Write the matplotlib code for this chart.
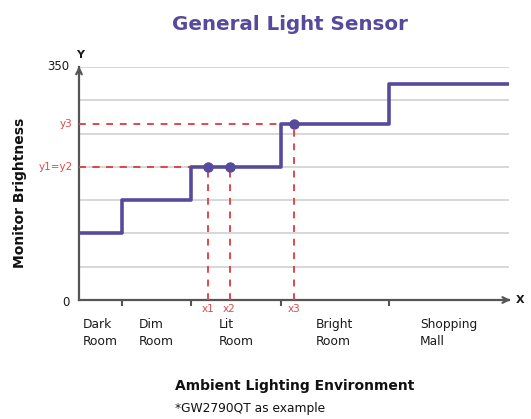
import matplotlib
matplotlib.use("Agg")
import matplotlib.pyplot as plt

# environments along the x axis (arbitrary scale 0..10)
edges = [0, 1.0, 2.6, 4.7, 7.2, 10.0]
levels = [100, 150, 200, 265, 325]
rooms = ["Dark\nRoom", "Dim\nRoom", "Lit\nRoom", "Bright\nRoom", "Shopping\nMall"]

# sample points on the curve
pt_x = [3.0, 3.5, 5.0]
pt_y = [200, 200, 265]
pt_names = ["x1", "x2", "x3"]
y_marks = [200, 265]
y_mark_names = ["y1=y2", "y3"]

PURPLE = "#574a9c"
RED = "#e0484c"
AXC = "#555555"
FONT = "DejaVu Sans"

fig = plt.figure(figsize=(5.31, 4.19), dpi=100)
W, H = 531, 419
x0, x1p, y0, y1p = 79, 509, 300, 67
ax = fig.add_axes([x0 / W, 1 - y0 / H, (x1p - x0) / W, (y0 - y1p) / H])
ax.set_xlim(0, 10)
ax.set_ylim(0, 350)

for g in range(50, 351, 50):
    ax.axhline(g, color="#d4d4d4", lw=1.3, zorder=1)

ax.step(edges, levels + [levels[-1]], where="post", color=PURPLE, lw=2.6, zorder=4)

for x, y in zip(pt_x, pt_y):
    ax.plot([0, x], [y, y], ls=(0, (3.5, 3.5)), color=RED, lw=1.4, zorder=3)
    ax.plot([x, x], [0, y], ls=(0, (3.5, 3.5)), color=RED, lw=1.4, zorder=3)
ax.plot(pt_x, pt_y, "o", color=PURPLE, ms=6.5, zorder=5)

for x, n in zip(pt_x, pt_names):
    ax.text(x, -13, n, color=RED, fontsize=7.5, ha="center", va="center", family=FONT, clip_on=False)
for y, n in zip(y_marks, y_mark_names):
    ax.text(-0.15, y, n, color=RED, fontsize=7.5, ha="right", va="center", family=FONT, clip_on=False)

for i, r in enumerate(rooms):
    mid = (edges[i] + edges[i + 1]) / 2
    ax.text(mid, -27, r, fontsize=8.8, ha="center", va="top", multialignment="left",
            linespacing=1.45, family=FONT, color="#1a1a1a", clip_on=False)

ax.set_xticks(edges[1:-1])
ax.set_xticklabels([])
ax.set_yticks([])
ax.tick_params(axis="x", direction="out", length=4, width=1.5, color=AXC)

for s in ["top", "right"]:
    ax.spines[s].set_visible(False)
for s in ["left", "bottom"]:
    ax.spines[s].set_color(AXC)
    ax.spines[s].set_linewidth(1.6)

ax.annotate("", xy=(1.01, 0), xytext=(0.99, 0), xycoords="axes fraction",
            arrowprops=dict(arrowstyle="->", color=AXC, lw=1.6))
ax.annotate("", xy=(0, 1.015), xytext=(0, 0.98), xycoords="axes fraction",
            arrowprops=dict(arrowstyle="->", color=AXC, lw=1.6))

ax.text(-0.3, -4, "0", fontsize=8.5, ha="center", va="center", family=FONT, color="#1a1a1a", clip_on=False)
ax.text(-0.22, 350, "350", fontsize=8.5, ha="right", va="center", family=FONT, color="#1a1a1a", clip_on=False)
ax.text(0.02, 368, "Y", fontsize=8, ha="center", va="center", family=FONT, fontweight="bold", color="#1a1a1a", clip_on=False)
ax.text(10.25, 0, "X", fontsize=8, ha="center", va="center", family=FONT, fontweight="bold", color="#1a1a1a", clip_on=False)

fig.text(290 / W, 1 - 24 / H, "General Light Sensor", color=PURPLE, fontsize=14.3,
         fontweight="bold", ha="center", va="center", family=FONT)
fig.text(20 / W, 1 - 193 / H, "Monitor Brightness", rotation=90, fontsize=10,
         fontweight="bold", ha="center", va="center", family=FONT, color="#111111")
fig.text(295 / W, 1 - 386 / H, "Ambient Lighting Environment", fontsize=10,
         fontweight="bold", ha="center", va="center", family=FONT, color="#111111")
fig.text(175 / W, 1 - 408 / H, "*GW2790QT as example", fontsize=8.8,
         ha="left", va="center", family=FONT, color="#111111")

fig.savefig("out.png", dpi=100)
